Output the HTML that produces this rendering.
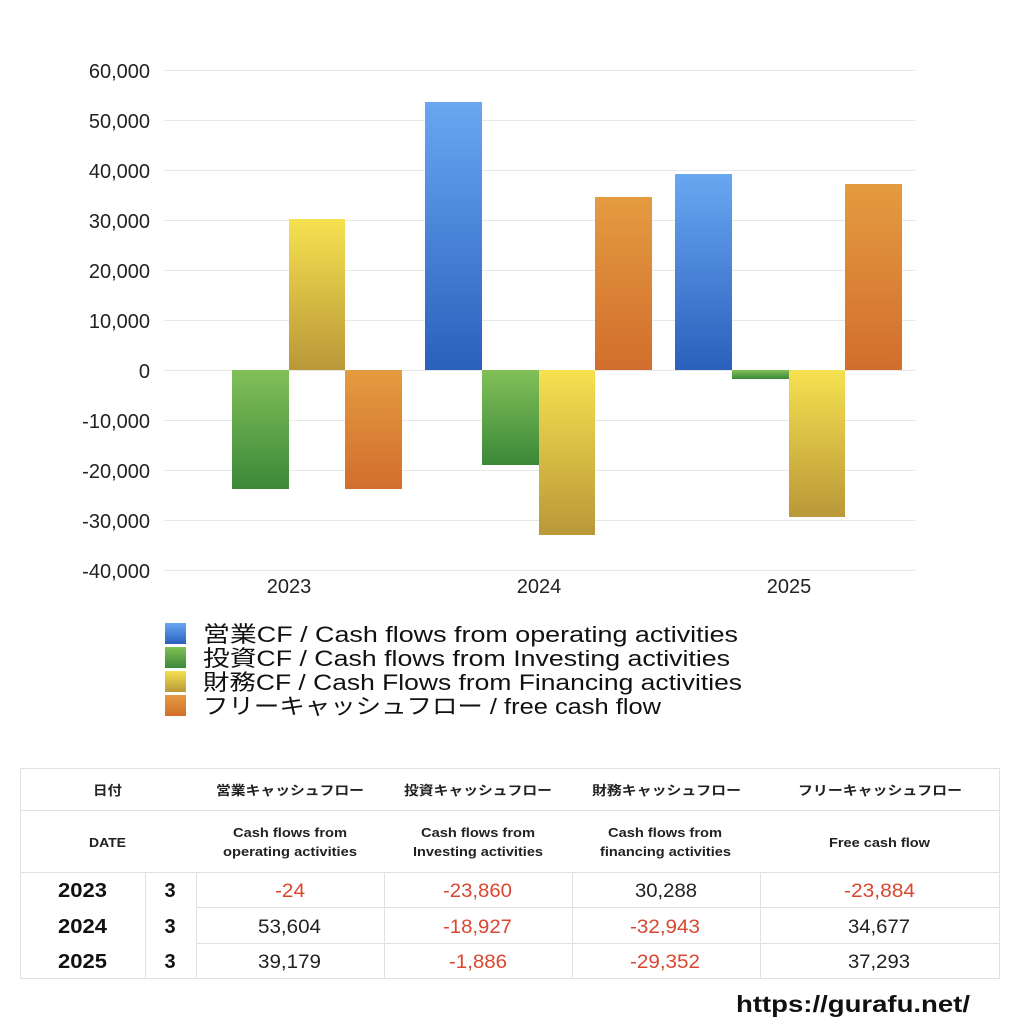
<!DOCTYPE html>
<html><head><meta charset="utf-8"><style>
html,body{margin:0;padding:0;background:#fff;}
svg{display:block;}
</style></head><body>
<svg width="1024" height="1024" viewBox="0 0 1024 1024" xmlns="http://www.w3.org/2000/svg" font-family="'Liberation Sans','Noto Sans CJK JP',sans-serif">
<defs>
<linearGradient id="gb" x1="0" y1="0" x2="0" y2="1"><stop offset="0" stop-color="#69a7f2"/><stop offset="1" stop-color="#2a60bc"/></linearGradient>
<linearGradient id="gg" x1="0" y1="0" x2="0" y2="1"><stop offset="0" stop-color="#82c058"/><stop offset="1" stop-color="#3b8839"/></linearGradient>
<linearGradient id="gy" x1="0" y1="0" x2="0" y2="1"><stop offset="0" stop-color="#f6e150"/><stop offset="1" stop-color="#b99838"/></linearGradient>
<linearGradient id="go" x1="0" y1="0" x2="0" y2="1"><stop offset="0" stop-color="#e49b40"/><stop offset="1" stop-color="#d26e2d"/></linearGradient>
</defs>
<rect width="1024" height="1024" fill="#fff"/>
<!-- gridlines -->
<g stroke="#e8e8e8" stroke-width="1">
<line x1="164" y1="70.5" x2="915" y2="70.5"/>
<line x1="164" y1="120.5" x2="915" y2="120.5"/>
<line x1="164" y1="170.5" x2="915" y2="170.5"/>
<line x1="164" y1="220.5" x2="915" y2="220.5"/>
<line x1="164" y1="270.5" x2="915" y2="270.5"/>
<line x1="164" y1="320.5" x2="915" y2="320.5"/>
<line x1="164" y1="370.5" x2="915" y2="370.5"/>
<line x1="164" y1="420.5" x2="915" y2="420.5"/>
<line x1="164" y1="470.5" x2="915" y2="470.5"/>
<line x1="164" y1="520.5" x2="915" y2="520.5"/>
<line x1="164" y1="570.5" x2="915" y2="570.5"/>
</g>
<!-- y labels -->
<g font-size="20" fill="#222" text-anchor="end">
<text x="150" y="78">60,000</text>
<text x="150" y="128">50,000</text>
<text x="150" y="178">40,000</text>
<text x="150" y="228">30,000</text>
<text x="150" y="278">20,000</text>
<text x="150" y="328">10,000</text>
<text x="150" y="378">0</text>
<text x="150" y="428">-10,000</text>
<text x="150" y="478">-20,000</text>
<text x="150" y="528">-30,000</text>
<text x="150" y="578">-40,000</text>
</g>
<!-- bars 2023 -->
<rect x="232" y="370" width="57" height="119" fill="url(#gg)"/>
<rect x="289" y="219" width="56" height="151" fill="url(#gy)"/>
<rect x="345" y="370" width="57" height="119" fill="url(#go)"/>
<!-- 2024 -->
<rect x="425" y="102" width="57" height="268" fill="url(#gb)"/>
<rect x="482" y="370" width="57" height="95" fill="url(#gg)"/>
<rect x="539" y="370" width="56" height="165" fill="url(#gy)"/>
<rect x="595" y="197" width="57" height="173" fill="url(#go)"/>
<!-- 2025 -->
<rect x="675" y="174" width="57" height="196" fill="url(#gb)"/>
<rect x="732" y="370" width="57" height="9" fill="url(#gg)"/>
<rect x="789" y="370" width="56" height="147" fill="url(#gy)"/>
<rect x="845" y="184" width="57" height="186" fill="url(#go)"/>
<!-- x labels -->
<g font-size="20" fill="#222" text-anchor="middle">
<text x="289" y="593">2023</text>
<text x="539" y="593">2024</text>
<text x="789" y="593">2025</text>
</g>
<!-- legend -->
<rect x="165" y="623" width="21" height="21" fill="url(#gb)"/>
<rect x="165" y="647" width="21" height="21" fill="url(#gg)"/>
<rect x="165" y="671" width="21" height="21" fill="url(#gy)"/>
<rect x="165" y="695" width="21" height="21" fill="url(#go)"/>
<g font-size="22" fill="#111">
<text x="203" y="642" textLength="535" lengthAdjust="spacingAndGlyphs">営業CF / Cash flows from operating activities</text>
<text x="203" y="666" textLength="527" lengthAdjust="spacingAndGlyphs">投資CF / Cash flows from Investing activities</text>
<text x="203" y="690" textLength="539" lengthAdjust="spacingAndGlyphs">財務CF / Cash Flows from Financing activities</text>
<text x="203" y="714" textLength="458" lengthAdjust="spacingAndGlyphs">フリーキャッシュフロー / free cash flow</text>
</g>
<!-- table -->
<g stroke="#e0e0e0" stroke-width="1" fill="none">
<rect x="20.5" y="768.5" width="979" height="210"/>
<line x1="20" y1="810.5" x2="1000" y2="810.5"/>
<line x1="20" y1="872.5" x2="1000" y2="872.5"/>
<line x1="196" y1="907.5" x2="1000" y2="907.5"/>
<line x1="196" y1="943.5" x2="1000" y2="943.5"/>
<line x1="145.5" y1="872" x2="145.5" y2="979"/>
<line x1="196.5" y1="872" x2="196.5" y2="979"/>
<line x1="384.5" y1="872" x2="384.5" y2="979"/>
<line x1="572.5" y1="872" x2="572.5" y2="979"/>
<line x1="760.5" y1="872" x2="760.5" y2="979"/>
</g>
<g font-size="13" font-weight="bold" fill="#222" lengthAdjust="spacingAndGlyphs">
<text x="93" y="795" textLength="29" lengthAdjust="spacingAndGlyphs">日付</text>
<text x="216" y="795" textLength="148" lengthAdjust="spacingAndGlyphs">営業キャッシュフロー</text>
<text x="404" y="795" textLength="148" lengthAdjust="spacingAndGlyphs">投資キャッシュフロー</text>
<text x="592" y="795" textLength="149" lengthAdjust="spacingAndGlyphs">財務キャッシュフロー</text>
<text x="798" y="795" textLength="164" lengthAdjust="spacingAndGlyphs">フリーキャッシュフロー</text>
<text x="89" y="847" textLength="37" lengthAdjust="spacingAndGlyphs">DATE</text>
<text x="233" y="837" textLength="114" lengthAdjust="spacingAndGlyphs">Cash flows from</text>
<text x="223" y="856" textLength="134" lengthAdjust="spacingAndGlyphs">operating activities</text>
<text x="421" y="837" textLength="114" lengthAdjust="spacingAndGlyphs">Cash flows from</text>
<text x="413" y="856" textLength="130" lengthAdjust="spacingAndGlyphs">Investing activities</text>
<text x="608" y="837" textLength="114" lengthAdjust="spacingAndGlyphs">Cash flows from</text>
<text x="600" y="856" textLength="131" lengthAdjust="spacingAndGlyphs">financing activities</text>
<text x="829" y="847" textLength="101" lengthAdjust="spacingAndGlyphs">Free cash flow</text>
</g>
<g font-size="20" font-weight="bold" fill="#111">
<text x="58" y="897" textLength="49" lengthAdjust="spacingAndGlyphs">2023</text>
<text x="58" y="933" textLength="49" lengthAdjust="spacingAndGlyphs">2024</text>
<text x="58" y="968" textLength="49" lengthAdjust="spacingAndGlyphs">2025</text>
<text x="170" y="897" text-anchor="middle">3</text>
<text x="170" y="933" text-anchor="middle">3</text>
<text x="170" y="968" text-anchor="middle">3</text>
</g>
<g font-size="19">
<text x="275" y="897" fill="#d9472f" textLength="30" lengthAdjust="spacingAndGlyphs">-24</text>
<text x="443" y="897" fill="#d9472f" textLength="69" lengthAdjust="spacingAndGlyphs">-23,860</text>
<text x="635" y="897" fill="#222" textLength="62" lengthAdjust="spacingAndGlyphs">30,288</text>
<text x="844" y="897" fill="#d9472f" textLength="71" lengthAdjust="spacingAndGlyphs">-23,884</text>
<text x="258" y="933" fill="#222" textLength="63" lengthAdjust="spacingAndGlyphs">53,604</text>
<text x="443" y="933" fill="#d9472f" textLength="69" lengthAdjust="spacingAndGlyphs">-18,927</text>
<text x="630" y="933" fill="#d9472f" textLength="70" lengthAdjust="spacingAndGlyphs">-32,943</text>
<text x="848" y="933" fill="#222" textLength="62" lengthAdjust="spacingAndGlyphs">34,677</text>
<text x="258" y="968" fill="#222" textLength="63" lengthAdjust="spacingAndGlyphs">39,179</text>
<text x="449" y="968" fill="#d9472f" textLength="58" lengthAdjust="spacingAndGlyphs">-1,886</text>
<text x="630" y="968" fill="#d9472f" textLength="70" lengthAdjust="spacingAndGlyphs">-29,352</text>
<text x="848" y="968" fill="#222" textLength="62" lengthAdjust="spacingAndGlyphs">37,293</text>
</g>
<text x="736" y="1012" font-size="23" font-weight="bold" fill="#111" textLength="234" lengthAdjust="spacingAndGlyphs">https://gurafu.net/</text>
</svg>
</body></html>
